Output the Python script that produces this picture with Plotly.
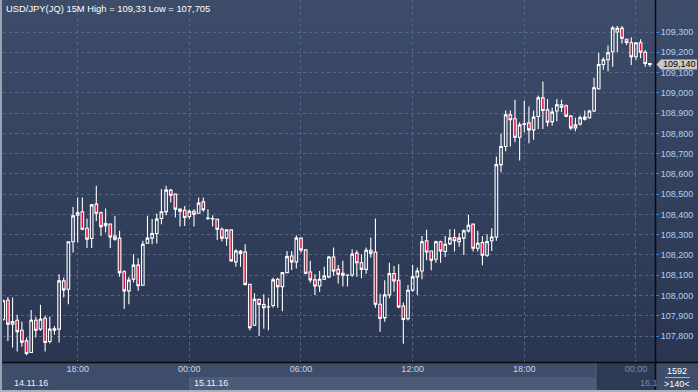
import plotly.graph_objects as go
import pandas as pd

# ---------------- data ----------------
times = pd.date_range("2016-11-14 14:00", periods=140, freq="15min")

open_ = [107.883, 107.977, 107.859, 107.878, 107.829, 107.776, 107.719, 107.878, 107.834, 107.888,
         107.773, 107.829, 107.834, 108.072, 108.031, 108.265, 108.396, 108.413, 108.332, 108.281,
         108.451, 108.408, 108.344, 108.352, 108.293, 108.283, 108.117, 108.023, 108.081, 108.150,
         108.051, 108.258, 108.283, 108.306, 108.380, 108.414, 108.520, 108.500, 108.426, 108.421,
         108.390, 108.416, 108.406, 108.462, 108.380, 108.378, 108.376, 108.327, 108.283, 108.324,
         108.166, 108.218, 108.215, 108.055, 107.853, 107.981, 107.956, 107.943, 107.951, 108.080,
         108.044, 108.113, 108.195, 108.166, 108.283, 108.225, 108.116, 108.077, 108.047, 108.080,
         108.092, 108.190, 108.129, 108.110, 108.100, 108.101, 108.209, 108.162, 108.129, 108.223,
         108.215, 107.957, 107.891, 108.003, 108.108, 108.075, 107.948, 107.886, 108.026, 108.092,
         108.121, 108.270, 108.220, 108.179, 108.265, 108.217, 108.256, 108.286, 108.266, 108.283,
         108.319, 108.352, 108.233, 108.261, 108.199, 108.270, 108.289, 108.646, 108.735, 108.891,
         108.872, 108.781, 108.844, 108.852, 108.817, 108.883, 108.975, 108.916, 108.858, 108.910,
         108.941, 108.936, 108.885, 108.827, 108.847, 108.880, 108.877, 108.910, 109.020, 109.140,
         109.163, 109.203, 109.300, 109.318, 109.264, 109.247, 109.178, 109.247, 109.200, 109.145]

high = [107.980, 107.993, 107.990, 107.905, 107.872, 107.793, 107.928, 107.895, 107.954, 107.900,
        107.896, 107.850, 108.105, 108.089, 108.268, 108.437, 108.484, 108.484, 108.380, 108.451,
        108.541, 108.414, 108.429, 108.352, 108.393, 108.319, 108.125, 108.092, 108.204, 108.184,
        108.270, 108.393, 108.377, 108.405, 108.525, 108.541, 108.525, 108.500, 108.426, 108.442,
        108.426, 108.426, 108.484, 108.484, 108.426, 108.396, 108.380, 108.335, 108.327, 108.324,
        108.228, 108.225, 108.253, 108.058, 108.011, 107.984, 108.006, 107.989, 108.088, 108.088,
        108.113, 108.220, 108.220, 108.297, 108.286, 108.225, 108.171, 108.105, 108.121, 108.142,
        108.195, 108.237, 108.151, 108.171, 108.105, 108.228, 108.223, 108.204, 108.237, 108.286,
        108.380, 108.009, 108.075, 108.162, 108.146, 108.154, 107.965, 108.052, 108.151, 108.138,
        108.294, 108.324, 108.220, 108.270, 108.270, 108.294, 108.327, 108.327, 108.309, 108.327,
        108.398, 108.352, 108.319, 108.294, 108.302, 108.332, 108.686, 108.798, 108.913, 108.913,
        108.966, 108.855, 108.962, 108.933, 108.913, 108.987, 109.056, 108.970, 108.926, 108.970,
        108.966, 108.943, 108.891, 108.877, 108.888, 108.913, 108.916, 109.074, 109.196, 109.176,
        109.234, 109.330, 109.330, 109.330, 109.264, 109.274, 109.250, 109.264, 109.211, 109.145]

low = [107.875, 107.776, 107.743, 107.724, 107.747, 107.705, 107.719, 107.793, 107.826, 107.724,
       107.763, 107.806, 107.768, 107.990, 107.957, 108.212, 108.262, 108.322, 108.234, 108.234,
       108.368, 108.294, 108.311, 108.234, 108.270, 108.092, 107.933, 107.957, 108.064, 108.023,
       108.048, 108.257, 108.253, 108.257, 108.352, 108.396, 108.459, 108.385, 108.340, 108.343,
       108.376, 108.340, 108.406, 108.413, 108.373, 108.340, 108.274, 108.266, 108.245, 108.166,
       108.142, 108.142, 108.050, 107.829, 107.850, 107.800, 107.836, 107.829, 107.940, 107.940,
       107.923, 108.113, 108.126, 108.133, 108.212, 108.105, 108.063, 108.002, 108.017, 108.077,
       108.085, 108.097, 108.059, 108.044, 108.044, 108.092, 108.092, 108.085, 108.108, 108.187,
       107.940, 107.821, 107.871, 107.986, 108.019, 107.937, 107.762, 107.877, 108.019, 108.003,
       108.080, 108.174, 108.125, 108.162, 108.162, 108.190, 108.248, 108.217, 108.240, 108.200,
       108.311, 108.217, 108.217, 108.149, 108.190, 108.220, 108.270, 108.608, 108.712, 108.735,
       108.756, 108.666, 108.806, 108.751, 108.768, 108.822, 108.822, 108.834, 108.839, 108.860,
       108.905, 108.880, 108.817, 108.811, 108.839, 108.863, 108.872, 108.905, 109.015, 109.114,
       109.107, 109.129, 109.200, 109.244, 109.236, 109.137, 109.162, 109.170, 109.129, 109.129]

close = [107.974, 107.859, 107.872, 107.822, 107.770, 107.714, 107.878, 107.829, 107.883, 107.768,
         107.834, 107.836, 108.072, 108.028, 108.265, 108.393, 108.408, 108.327, 108.278, 108.447,
         108.406, 108.340, 108.355, 108.289, 108.278, 108.113, 108.023, 108.076, 108.150, 108.048,
         108.253, 108.283, 108.306, 108.377, 108.413, 108.520, 108.495, 108.426, 108.416, 108.385,
         108.416, 108.401, 108.456, 108.423, 108.382, 108.380, 108.327, 108.283, 108.324, 108.171,
         108.220, 108.208, 108.055, 107.841, 107.981, 107.956, 107.940, 107.944, 108.077, 108.044,
         108.113, 108.192, 108.166, 108.283, 108.225, 108.110, 108.077, 108.047, 108.080, 108.096,
         108.190, 108.121, 108.105, 108.100, 108.101, 108.204, 108.162, 108.129, 108.223, 108.209,
         107.957, 107.887, 108.003, 108.108, 108.072, 107.943, 107.882, 108.026, 108.092, 108.121,
         108.265, 108.215, 108.174, 108.265, 108.220, 108.253, 108.283, 108.270, 108.283, 108.319,
         108.347, 108.233, 108.258, 108.199, 108.266, 108.289, 108.646, 108.735, 108.891, 108.867,
         108.781, 108.842, 108.847, 108.817, 108.880, 108.975, 108.913, 108.855, 108.905, 108.941,
         108.929, 108.885, 108.827, 108.842, 108.877, 108.870, 108.910, 109.025, 109.140, 109.163,
         109.198, 109.320, 109.318, 109.269, 109.249, 109.178, 109.247, 109.200, 109.145, 109.140]

time_tick_vals = ["2016-11-14 18:00", "2016-11-15 00:00", "2016-11-15 06:00",
                  "2016-11-15 12:00", "2016-11-15 18:00", "2016-11-16 00:00"]
time_tick_text = ["18:00", "00:00", "06:00", "12:00", "18:00",
                  "<span style='color:#7d8aa3'>00:00</span>"]
price_ticks = [107.8, 107.9, 108.0, 108.1, 108.2, 108.3, 108.4, 108.5,
               108.6, 108.7, 108.8, 108.9, 109.0, 109.1, 109.2, 109.3]
date_labels = ["14.11.16", "15.11.16", "16.1"]
date_positions = ["2016-11-14 14:00", "2016-11-15 00:00", "2016-11-16 00:00"]
title_text = "USD/JPY(JQ) 15M High = 109,33 Low = 107,705"
bar_total = "1592"
bars_visible = ">140<"

# ---------------- geometry ----------------
W, H = 698, 392
ML, MR, MT, MB = 3, 43, 0, 30
PW, PH = W - ML - MR, H - MT - MB
X_RANGE = ["2016-11-14 13:59:08", "2016-11-16 01:01:30"]
Y_RANGE = [107.672, 109.458]
FONT = "Liberation Sans, Arial, sans-serif"


def px(x):
    return (x - ML) / PW


def py(y):
    return (H - MB - y) / PH


def hexmix(c1, c2, t):
    a = [int(c1[i:i + 2], 16) for i in (1, 3, 5)]
    b = [int(c2[i:i + 2], 16) for i in (1, 3, 5)]
    return "rgb(%d,%d,%d)" % tuple(round(a[k] + (b[k] - a[k]) * t) for k in range(3))


shapes = []
# background gradient (plot + right scale)
N = 40
top_c, bot_c = "#3d4c69", "#2a3651"
for k in range(N):
    y0 = (H - MB) * k / N
    y1 = (H - MB) * (k + 1) / N
    shapes.append(dict(type="rect", xref="paper", yref="paper", layer="below",
                       x0=px(0), x1=px(W), y0=py(y0), y1=py(y1 + 0.5),
                       fillcolor=hexmix(top_c, bot_c, (k + 0.5) / N), line=dict(width=0)))
# bottom time scale rows
shapes.append(dict(type="rect", xref="paper", yref="paper", layer="below",
                   x0=px(0), x1=px(W), y0=py(H - MB), y1=py(H),
                   fillcolor="#3e4d6a", line=dict(width=0)))
shapes.append(dict(type="rect", xref="paper", yref="paper", layer="below",
                   x0=px(190), x1=px(596), y0=py(377), y1=py(390),
                   fillcolor="#4c5b77", line=dict(width=0)))
shapes.append(dict(type="line", xref="paper", yref="paper", layer="below",
                   x0=px(190), x1=px(190), y0=py(377), y1=py(390),
                   line=dict(color="#5d6c88", width=1)))
shapes.append(dict(type="rect", xref="paper", yref="paper", layer="below",
                   x0=px(596), x1=px(655), y0=py(362), y1=py(390),
                   fillcolor="#2d3a56", line=dict(width=0)))
shapes.append(dict(type="line", xref="paper", yref="paper", layer="below",
                   x0=px(596), x1=px(596), y0=py(362), y1=py(390),
                   line=dict(color="#56647e", width=1)))
# separators
shapes.append(dict(type="line", xref="paper", yref="paper", layer="above",
                   x0=px(0), x1=px(W), y0=py(362.5), y1=py(362.5),
                   line=dict(color="#0a0a0a", width=1.5)))
shapes.append(dict(type="line", xref="paper", yref="paper", layer="above",
                   x0=px(655.5), x1=px(655.5), y0=py(0), y1=py(390),
                   line=dict(color="#0a0a0a", width=1.5)))
# underline of bar counter
shapes.append(dict(type="line", xref="paper", yref="paper", layer="above",
                   x0=px(665), x1=px(690), y0=py(377.5), y1=py(377.5),
                   line=dict(color="#aab4c6", width=1)))
# frame borders
shapes.append(dict(type="rect", xref="paper", yref="paper", layer="above",
                   x0=px(0), x1=px(2), y0=py(0), y1=py(H),
                   fillcolor="#9aa3b3", line=dict(width=0)))
shapes.append(dict(type="rect", xref="paper", yref="paper", layer="above",
                   x0=px(0), x1=px(W), y0=py(390), y1=py(H),
                   fillcolor="#a9b1bf", line=dict(width=0)))

# current price marker
last = close[-1]
hh = (Y_RANGE[1] - Y_RANGE[0]) / PH * 5
shapes.append(dict(type="path", xref="paper", yref="y", layer="above",
                   path="M %f,%f L %f,%f L %f,%f L %f,%f L %f,%f Z" % (
                       px(656.5), last, px(661), last + hh, px(697), last + hh,
                       px(697), last - hh, px(661), last - hh),
                   fillcolor="#c9c9c9", line=dict(width=0)))

annotations = [
    dict(text=title_text, xref="paper", yref="paper", x=px(4), y=py(8),
         xanchor="left", yanchor="middle", showarrow=False,
         font=dict(family=FONT, size=9.4, color="#ffffff")),
    dict(text=("%.3f" % last).replace(".", ","), xref="paper", yref="y",
         x=px(679), y=last, xanchor="center", yanchor="middle", showarrow=False,
         font=dict(family=FONT, size=9, color="#000000")),
    dict(text=bar_total, xref="paper", yref="paper", x=px(677), y=py(371),
         xanchor="center", yanchor="middle", showarrow=False,
         font=dict(family=FONT, size=9, color="#ffffff")),
    dict(text=bars_visible, xref="paper", yref="paper", x=px(677), y=py(384),
         xanchor="center", yanchor="middle", showarrow=False,
         font=dict(family=FONT, size=9, color="#ffffff")),
]
date_shift = [9, 3, 2]
date_color = ["#eef2f8", "#eef2f8", "#7d8aa3"]
for lbl, pos, sh, col in zip(date_labels, date_positions, date_shift, date_color):
    annotations.append(dict(text=lbl, xref="x", yref="paper", x=pos, y=py(383),
                            xanchor="left", yanchor="middle", xshift=sh, showarrow=False,
                            font=dict(family=FONT, size=9, color=col)))

fig = go.Figure(go.Candlestick(
    x=times, open=open_, high=high, low=low, close=close,
    increasing=dict(line=dict(color="#ffffff", width=1.1), fillcolor="rgba(0,0,0,0)"),
    decreasing=dict(line=dict(color="#ffffff", width=1.1), fillcolor="#e3083a"),
    whiskerwidth=0, hoverinfo="skip", showlegend=False))

fig.update_layout(
    width=W, height=H, margin=dict(l=ML, r=MR, t=MT, b=MB, pad=0),
    paper_bgcolor="#2f3c58", plot_bgcolor="rgba(0,0,0,0)",
    separators=", ", showlegend=False, boxgap=0.2,
    font=dict(family=FONT, size=9, color="#c8d6ea"),
    shapes=shapes, annotations=annotations,
)
fig.update_xaxes(
    type="date", range=X_RANGE, rangeslider=dict(visible=False),
    tickmode="array", tickvals=time_tick_vals, ticktext=time_tick_text,
    showgrid=True, gridcolor="#56668a", griddash="dot", gridwidth=1,
    ticks="", showline=False, zeroline=False,
    tickfont=dict(family=FONT, size=9, color="#c6d4ea"),
)
fig.update_yaxes(
    side="right", range=Y_RANGE, tickmode="array", tickvals=price_ticks,
    tickformat=".3f", showgrid=True, gridcolor="#56668a", griddash="dot", gridwidth=1,
    ticks="outside", ticklen=3, tickcolor="#3d8be0", showline=False, zeroline=False,
    tickfont=dict(family=FONT, size=9, color="#b4cff0"),
)

fig.write_html("out.html", config={"displayModeBar": False},
               post_script="document.body.style.margin='0';document.body.style.overflow='hidden';")
